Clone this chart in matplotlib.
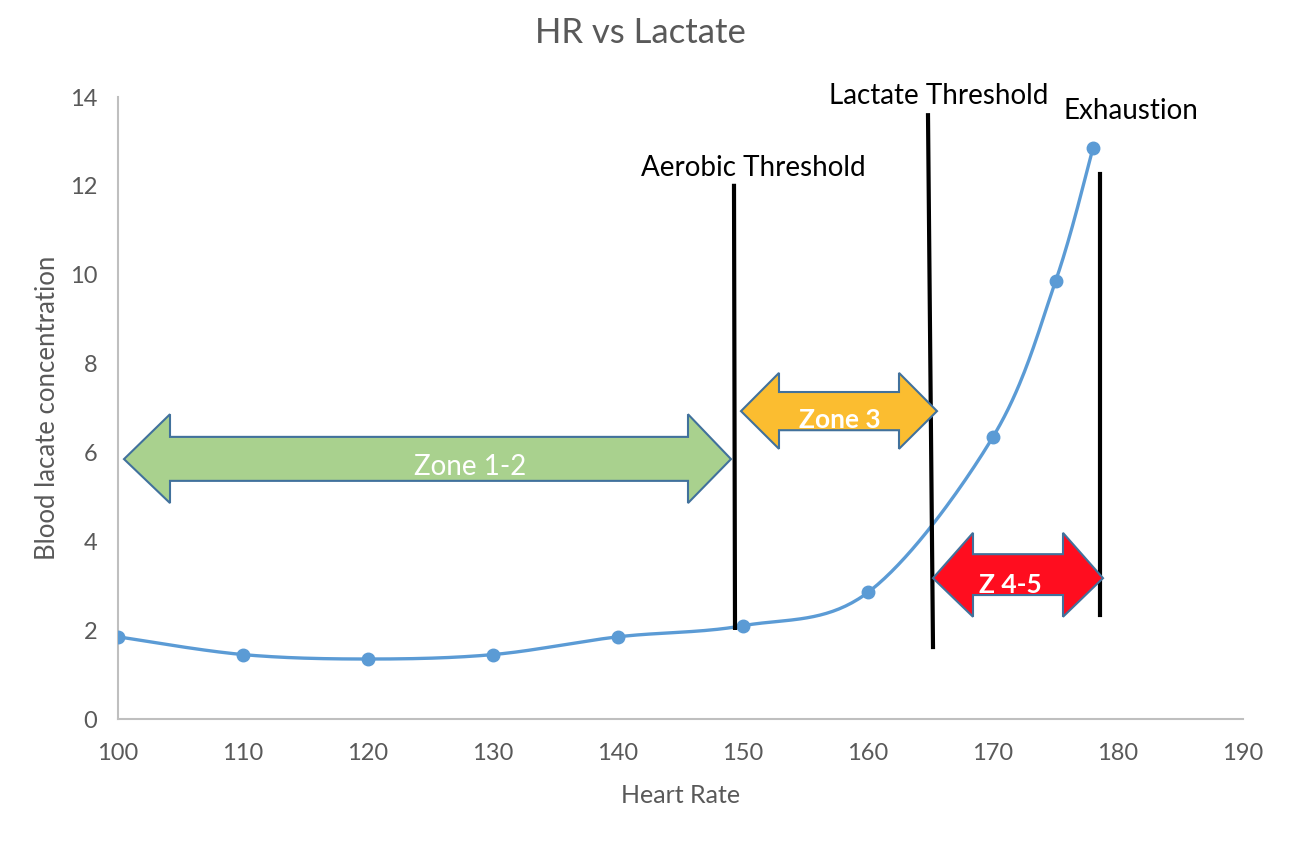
import numpy as np
import matplotlib
matplotlib.use("Agg")
import matplotlib.pyplot as plt
from matplotlib.patches import Polygon

# ---- data ----
heart_rate = [100, 110, 120, 130, 140, 150, 160, 170, 175, 178]
lactate = [1.85, 1.45, 1.35, 1.45, 1.85, 2.1, 2.85, 6.35, 9.85, 12.85]
x_ticks = [100, 110, 120, 130, 140, 150, 160, 170, 180, 190]
y_ticks = [0, 2, 4, 6, 8, 10, 12, 14]

title = "HR vs Lactate"
x_label = "Heart Rate"
y_label = "Blood lacate concentration"

plt.rcParams['font.family'] = ['Lato', 'DejaVu Sans']
GREY = '#595959'

fig = plt.figure(figsize=(12.92, 8.5), dpi=100)
ax = fig.add_axes([118/1292, 1-719/850, (1243-118)/1292, (719-97)/850])


def excel_smooth(xs, ys, n=40):
    P = np.column_stack([xs, ys]).astype(float)
    P = np.vstack([P[0], P, P[-1]])
    out = []
    for i in range(1, len(P) - 2):
        p0, p1, p2, p3 = P[i-1], P[i], P[i+1], P[i+2]
        c1 = p1 + (p2 - p0) / 6
        c2 = p2 - (p3 - p1) / 6
        t = np.linspace(0, 1, n)[:, None]
        seg = ((1-t)**3)*p1 + 3*((1-t)**2)*t*c1 + 3*(1-t)*t**2*c2 + t**3*p2
        out.append(seg if i == 1 else seg[1:])
    s = np.vstack(out)
    return s[:, 0], s[:, 1]


sx, sy = excel_smooth(heart_rate, lactate)
ax.plot(sx, sy, color='#5b9bd5', lw=2.4, zorder=3, solid_capstyle='round')
ax.plot(heart_rate, lactate, 'o', color='#5b9bd5', ms=9, zorder=4)

ax.set_xlim(100, 190)
ax.set_ylim(0, 14)
ax.set_xticks(x_ticks)
ax.set_yticks(y_ticks)
ax.tick_params(length=0, labelsize=17, labelcolor=GREY)
ax.tick_params(axis='x', pad=17)
ax.tick_params(axis='y', pad=15)
for s in ['top', 'right']:
    ax.spines[s].set_visible(False)
for s in ['left', 'bottom']:
    ax.spines[s].set_color('#bfbfbf')
    ax.spines[s].set_linewidth(1.5)

ax.set_xlabel(x_label, fontsize=18, color=GREY, labelpad=15)
ax.set_ylabel(y_label, fontsize=18.5, color=GREY, labelpad=7)
fig.text(640/1292, 1-33/850, title, fontsize=25, color=GREY, ha='center', va='center')

# threshold lines
ax.plot([149.28, 149.36], [12.0, 2.05], color='black', lw=3, zorder=5)
ax.plot([164.8, 165.2], [13.59, 1.62], color='black', lw=3, zorder=5, clip_on=False)
ax.plot([178.56, 178.56], [12.27, 2.34], color='black', lw=3, zorder=5)

ax.text(150.8, 12.4, "Aerobic Threshold", fontsize=20, ha='center', va='center', color='black')
ax.text(165.68, 14.02, "Lactate Threshold", fontsize=20, ha='center', va='center', color='black', clip_on=False)
ax.text(181.04, 13.68, "Exhaustion", fontsize=20, ha='center', va='center', color='black')


def dbl_arrow(x0, xi0, xi1, x1, yc, sh_lo, sh_hi, hd_lo, hd_hi, fc):
    pts = [(x0, yc), (xi0, hd_hi), (xi0, sh_hi), (xi1, sh_hi), (xi1, hd_hi),
           (x1, yc), (xi1, hd_lo), (xi1, sh_lo), (xi0, sh_lo), (xi0, hd_lo)]
    ax.add_patch(Polygon(pts, closed=True, facecolor=fc, edgecolor='#41719c',
                         lw=1.5, zorder=6, clip_on=False))


dbl_arrow(100.48, 104.16, 145.6, 149.04, 5.85, 5.36, 6.35, 4.86, 6.86, '#a9d18e')
dbl_arrow(149.84, 152.88, 162.48, 165.52, 6.93, 6.50, 7.36, 6.08, 7.79, '#fbbd30')
dbl_arrow(165.2, 168.4, 175.6, 178.8, 3.17, 2.79, 3.71, 2.30, 4.19, '#ff0d1f')

ax.text(128.16, 5.67, "Zone 1-2", fontsize=20, color='white', ha='center', va='center', zorder=7)
ax.text(157.76, 6.73, "Zone 3", fontsize=19, color='white', ha='center', va='center', zorder=7, fontweight='bold')
ax.text(171.36, 3.02, "Z 4-5", fontsize=19, color='white', ha='center', va='center', zorder=7, fontweight='bold')

fig.savefig("out.png", dpi=100, facecolor='white')
